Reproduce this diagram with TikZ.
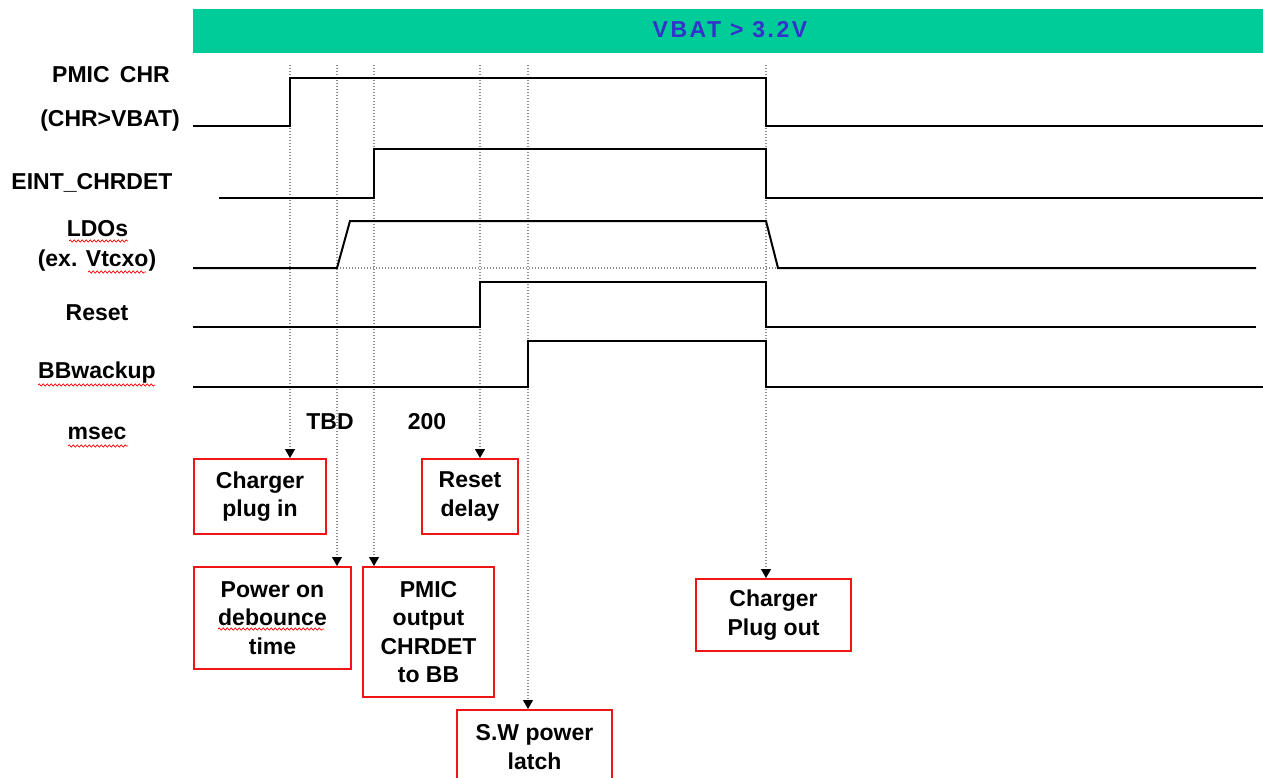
\documentclass[tikz,border=0pt]{standalone}
\usepackage{fontspec}
\setmainfont{Liberation Sans}
\usetikzlibrary{arrows.meta,decorations.pathmorphing}
\definecolor{barGreen}{RGB}{0,204,154}
\definecolor{vbatBlue}{RGB}{51,51,204}
\definecolor{boxRed}{RGB}{240,20,20}
\tikzset{
  sig/.style={line width=2pt, black, line join=miter},
  guide/.style={line width=1.2pt, black!45, dash pattern=on 1.2pt off 1.8pt},
  guidearrow/.style={guide, -{Triangle[width=10pt,length=9pt,black]}},
  lbl/.style={font=\fontsize{23}{28}\selectfont\bfseries, inner sep=0pt, align=center},
  box/.style={draw=boxRed, line width=2pt, font=\fontsize{23}{28.5}\selectfont\bfseries, align=center, inner sep=0pt, anchor=north west},
  wavy/.style={red, line width=0.7pt, decorate, decoration={snake, segment length=4pt, amplitude=1.1pt}}
}
\begin{document}
\begin{tikzpicture}[x=1pt,y=-1pt]
\useasboundingbox (0,0) rectangle (1263,778);
\clip (0,0) rectangle (1263,778);
% green bar
\node[fill=barGreen, minimum width=1071pt, minimum height=44pt, anchor=north west, inner sep=0pt] (bar) at (193,9) {};
\node[lbl, text=vbatBlue, font=\fontsize{23}{28}\selectfont\bfseries\addfontfeatures{LetterSpace=11}] (vbat) at (730,30) {VBAT > 3.2V};
% signal labels
\node[lbl] (l1a) at (111,75) {PMIC\, CHR};
\node[lbl] (l1b) at (110,121) {(CHR>VBAT)};
\node[lbl] (l2) at (92,183) {EINT\_CHRDET};
\node[lbl] (l3a) at (97.5,229) {LDOs};
\node[lbl] (l3b) at (97,261) {(ex. Vtcxo)};
\node[lbl] (l4) at (97,313) {Reset};
\node[lbl] (l5) at (97,373) {BBwackup};
\node[lbl] (l6) at (97,433) {msec};
\node[lbl] (tbd) at (330,422) {TBD};
\node[lbl] (t200) at (427,422) {200};
% spell-check underlines
\draw[wavy] (69,241) -- (128,241);
\draw[wavy] (88,272) -- (146,272);
\draw[wavy] (38,385) -- (155,385);
\draw[wavy] (68,446) -- (128,446);
\draw[wavy] (218,629) -- (324,629);
% guide lines top points
\coordinate (t1) at (290,65);
\coordinate (t2) at (337,65);
\coordinate (t3) at (374,65);
\coordinate (t4) at (480,65);
\coordinate (t5) at (528,65);
\coordinate (t6) at (766,65);
% boxes
\node[box, minimum width=132pt, minimum height=75pt] (cpi) at (193,458) {Charger\\plug in};
\node[box, minimum width=96pt, minimum height=75pt] (rd) at (421,458) {Reset\\delay};
\node[box, minimum width=157pt, minimum height=102pt] (pod) at (193,566) {Power on\\debounce\\time};
\node[box, minimum width=131pt, minimum height=130pt] (pmo) at (362,566) {PMIC\\output\\CHRDET\\to BB};
\node[box, minimum width=155pt, minimum height=72pt] (cpo) at (695,578) {Charger\\Plug out};
\node[box, minimum width=155pt, minimum height=74pt] (swl) at (456,709) {S.W power\\latch};
% guide connectors
\draw[guidearrow] (t1) -- (t1 |- cpi.north);
\draw[guidearrow] (t2) -- (t2 |- pod.north);
\draw[guidearrow] (t3) -- (t3 |- pmo.north);
\draw[guidearrow] (t4) -- (t4 |- rd.north);
\draw[guidearrow] (t5) -- (t5 |- swl.north);
\draw[guidearrow] (t6) -- (t6 |- cpo.north);
\draw[guide] (337,268) -- (778,268);
% waveforms
\draw[sig] (193,126) -- (290,126) -- (290,78) -- (766,78) -- (766,126) -- (1263,126);
\draw[sig] (219,198) -- (374,198) -- (374,149) -- (766,149) -- (766,198) -- (1263,198);
\draw[sig] (193,268) -- (337,268) -- (350,221) -- (766,221) -- (778,268) -- (1256,268);
\draw[sig] (193,327) -- (480,327) -- (480,282) -- (766,282) -- (766,327) -- (1256,327);
\draw[sig] (193,387) -- (528,387) -- (528,341) -- (766,341) -- (766,387) -- (1263,387);
\end{tikzpicture}
\end{document}
